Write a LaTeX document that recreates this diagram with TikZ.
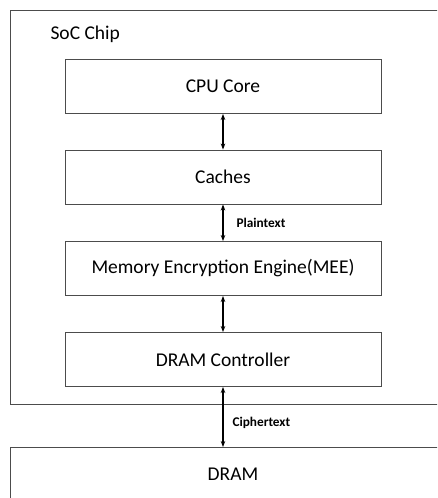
\documentclass[tikz,border=0pt]{standalone}
\usepackage{fontspec}
\setmainfont{Carlito}
\usetikzlibrary{arrows.meta,positioning}

\begin{document}
\begin{tikzpicture}[x=1pt,y=-1pt,
  block/.style={draw=black!70, line width=0.9pt, minimum width=316pt, minimum height=54pt, inner sep=0pt, font=\fontsize{19.5}{22}\selectfont},
  link/.style={{Stealth[length=6pt,width=4.5pt]}-{Stealth[length=6pt,width=4.5pt]}, line width=1.3pt},
  tag/.style={anchor=west, font=\bfseries\fontsize{13.3}{15}\selectfont}]
\clip (0,0) rectangle (437,498);

% SoC chip outline
\node[draw=black!70, line width=0.9pt, anchor=north west, minimum width=450pt, minimum height=394pt] (soc) at (10,10) {};
\node[anchor=base west, font=\fontsize{19.5}{22}\selectfont] (soclabel) at (47,39) {SoC Chip};

% blocks inside the chip
\node[block] (cpu) at (223,86.5) {CPU Core};
\node[block] (caches) at (223,177) {Caches};
\node[block] (mee) at (223,268.5) {Memory Encryption Engine(MEE)};
\node[block] (ctrl) at (223,359.5) {DRAM Controller};

% DRAM
\node[draw=black!70, line width=0.9pt, anchor=north west, minimum width=450pt, minimum height=100pt] (dram) at (10,447) {};
\node[font=\fontsize{19.5}{22}\selectfont] (dramlabel) at (233,474) {DRAM};

% links
\draw[link] (cpu.south) -- (caches.north);
\draw[link] (caches.south) -- (mee.north);
\draw[link] (mee.south) -- (ctrl.north);
\draw[link] (ctrl.south) -- (ctrl.south |- dram.north);

% labels on links
\node[tag] (plain) at (233,223) {Plaintext};
\node[tag] (cipher) at (229,423) {Ciphertext};
\end{tikzpicture}
\end{document}
